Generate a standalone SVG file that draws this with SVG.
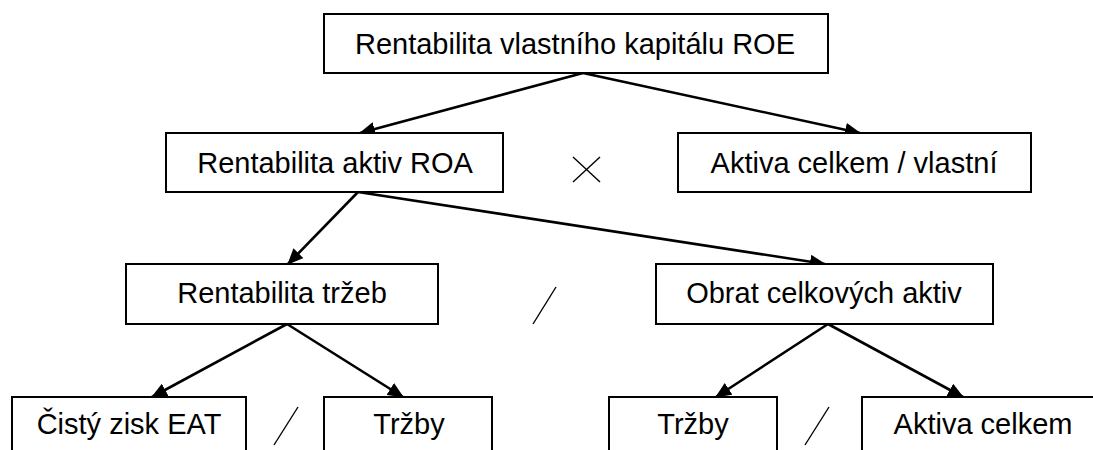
<svg xmlns="http://www.w3.org/2000/svg" width="1093" height="450" viewBox="0 0 1093 450">
<style>
.box{fill:#fff;stroke:#000;stroke-width:2}
.lbl{font-family:"Liberation Sans",Arial,sans-serif;font-size:29px;fill:#000;text-anchor:middle}
.con{stroke:#000;stroke-width:2.6;fill:none;marker-end:url(#ah)}
.op{stroke:#000;stroke-width:1.4;fill:none}
</style>
<defs>
<marker id="ah" markerUnits="userSpaceOnUse" markerWidth="16" markerHeight="14" refX="15" refY="7" orient="auto">
<path d="M0,0 L16,7 L0,14 z" fill="#000"/>
</marker>
</defs>
<rect width="1093" height="450" fill="#fff"/>
<g id="connectors">
<line class="con" x1="583" y1="73" x2="360" y2="133"/>
<line class="con" x1="583" y1="73" x2="860" y2="133"/>
<line class="con" x1="358" y1="192" x2="288" y2="264"/>
<line class="con" x1="358" y1="192" x2="825" y2="264"/>
<line class="con" x1="287" y1="324" x2="152" y2="397"/>
<line class="con" x1="287" y1="324" x2="403" y2="397"/>
<line class="con" x1="828" y1="324" x2="716" y2="397"/>
<line class="con" x1="828" y1="324" x2="963" y2="397"/>
</g>
<g id="operators">
<line class="op" x1="573" y1="157" x2="600" y2="182"/>
<line class="op" x1="600" y1="157" x2="573" y2="182"/>
<line class="op" x1="556" y1="287" x2="533" y2="324"/>
<line class="op" x1="298" y1="407" x2="274" y2="445"/>
<line class="op" x1="829" y1="407" x2="805" y2="445"/>
</g>
<g id="roe">
<rect class="box" x="324" y="14" width="504" height="59"/>
<text class="lbl" x="575" y="54">Rentabilita vlastního kapitálu ROE</text>
</g>
<g id="roa">
<rect class="box" x="166" y="133" width="337" height="59"/>
<text class="lbl" x="335" y="173">Rentabilita aktiv ROA</text>
</g>
<g id="leverage">
<rect class="box" x="678" y="133" width="353" height="59"/>
<text class="lbl" x="854" y="173">Aktiva celkem / vlastní</text>
</g>
<g id="ros">
<rect class="box" x="126" y="264" width="312" height="60"/>
<text class="lbl" x="282" y="303">Rentabilita tržeb</text>
</g>
<g id="turnover">
<rect class="box" x="656" y="264" width="337" height="60"/>
<text class="lbl" x="824" y="303">Obrat celkových aktiv</text>
</g>
<g id="eat">
<rect class="box" x="12" y="397" width="234" height="62"/>
<text class="lbl" x="129" y="434">Čistý zisk EAT</text>
</g>
<g id="sales1">
<rect class="box" x="324" y="397" width="168" height="62"/>
<text class="lbl" x="409" y="434">Tržby</text>
</g>
<g id="sales2">
<rect class="box" x="609" y="397" width="168" height="62"/>
<text class="lbl" x="693" y="434">Tržby</text>
</g>
<g id="assets">
<rect class="box" x="862" y="397" width="250" height="62"/>
<text class="lbl" x="983" y="434">Aktiva celkem</text>
</g>
</svg>
